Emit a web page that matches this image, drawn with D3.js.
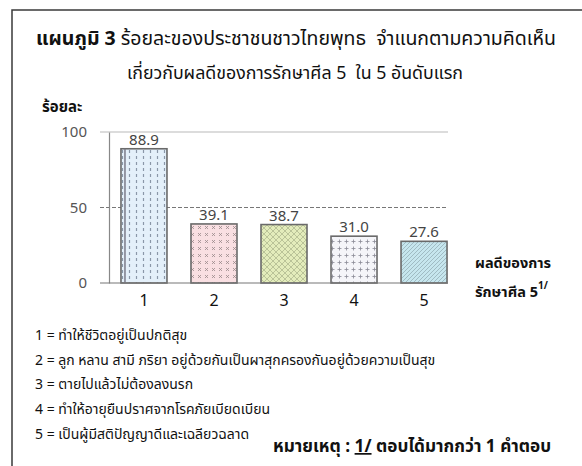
<!DOCTYPE html>
<html>
<head>
<meta charset="utf-8">
<script src="https://cdn.jsdelivr.net/npm/d3@7"></script>
<style>
  html, body { margin: 0; padding: 0; background: #fff; }
  svg { display: block; }
  text { font-family: "Leelawadee UI", Tahoma, "Noto Sans Thai", "Noto Sans", "DejaVu Sans", sans-serif; }
</style>
</head>
<body>
<div id="chart"></div>
<script>
const titleBold = "แผนภูมิ 3";
const titleRest = " ร้อยละของประชาชนชาวไทยพุทธ  จำแนกตามความคิดเห็น";
const titleLine2 = "เกี่ยวกับผลดีของการรักษาศีล 5  ใน 5 อันดับแรก";
const yAxisTitle = "ร้อยละ";
const xAxisTitle1 = "ผลดีของการ";
const xAxisTitle2 = "รักษาศีล 5";
const xAxisSup = "1/";
const categories = ["1", "2", "3", "4", "5"];
const values = [88.9, 39.1, 38.7, 31.0, 27.6];
const valueLabels = ["88.9", "39.1", "38.7", "31.0", "27.6"];
const yTicks = [0, 50, 100];
const legendItems = [
  "1 = ทำให้ชีวิตอยู่เป็นปกติสุข",
  "2 = ลูก หลาน สามี ภริยา อยู่ด้วยกันเป็นผาสุกครองกันอยู่ด้วยความเป็นสุข",
  "3 = ตายไปแล้วไม่ต้องลงนรก",
  "4 = ทำให้อายุยืนปราศจากโรคภัยเบียดเบียน",
  "5 = เป็นผู้มีสติปัญญาดีและเฉลียวฉลาด"
];
const noteBold = "หมายเหตุ : ";
const noteRef = "1/";
const noteRest = " ตอบได้มากกว่า 1 คำตอบ";

const W = 582, H = 466;
const svg = d3.select("#chart").append("svg").attr("width", W).attr("height", H);
const defs = svg.append("defs");

// patterns
function pat(id, w, h, bg, draw) {
  const p = defs.append("pattern").attr("id", id).attr("patternUnits", "userSpaceOnUse")
    .attr("width", w).attr("height", h);
  p.append("rect").attr("width", w).attr("height", h).attr("fill", bg);
  draw(p);
}
pat("p1", 7, 6, "#e4f0fa", p => {
  p.append("line").attr("x1", 3.5).attr("x2", 3.5).attr("y1", 0).attr("y2", 3)
    .attr("stroke", "#8a97a8").attr("stroke-width", 1.2);
});
pat("p2", 7, 7, "#f9dfe2", p => {
  p.append("path").attr("d", "M2,2 L5,5 M5,2 L2,5").attr("stroke", "#9a8a8c").attr("stroke-width", 0.8);
});
pat("p3", 6, 6, "#e3ecbb", p => {
  p.append("path").attr("d", "M0,0 L6,6 M6,0 L0,6").attr("stroke", "#a7b28a").attr("stroke-width", 0.7);
});
pat("p4", 7, 7, "#f5f5f9", p => {
  p.append("path").attr("d", "M3.5,1.5 L3.5,5.5 M1.5,3.5 L5.5,3.5").attr("stroke", "#8a8a96").attr("stroke-width", 0.8);
});
pat("p5", 4, 4, "#c6e6ee", p => {
  p.append("path").attr("d", "M-1,5 L5,-1 M-1,1 L1,-1 M3,5 L5,3").attr("stroke", "#8fa9b0").attr("stroke-width", 0.7);
});
const patIds = ["p1", "p2", "p3", "p4", "p5"];

// frame
svg.append("path").attr("d", `M12,${H} L12,10 L${W},10`).attr("fill", "none")
  .attr("stroke", "#3a3a3a").attr("stroke-width", 1.5);

// title
const t1 = svg.append("text").attr("x", 296).attr("y", 45).attr("text-anchor", "middle")
  .attr("font-size", 19.5).attr("fill", "#111").attr("xml:space", "preserve");
t1.append("tspan").attr("font-weight", "bold").text(titleBold);
t1.append("tspan").text(titleRest);
svg.append("text").attr("x", 295).attr("y", 79).attr("text-anchor", "middle")
  .attr("font-size", 17.8).attr("fill", "#111").attr("xml:space", "preserve").text(titleLine2);

// y title
svg.append("text").attr("x", 42).attr("y", 112).attr("font-size", 15).attr("font-weight", "bold")
  .attr("fill", "#111").text(yAxisTitle);

// scales
const x = d3.scaleBand().domain(categories).range([109, 459]).paddingInner(0.343).paddingOuter(0.171);
const y = d3.scaleLinear().domain([0, 100]).range([283, 132]);
const plotRight = x("5") + x.bandwidth() + 1;

// gridlines
const g = svg.append("g");
yTicks.forEach(t => {
  if (t === 0) return;
  g.append("line").attr("x1", 100).attr("x2", plotRight).attr("y1", y(t)).attr("y2", y(t))
    .attr("stroke", t === 100 ? "#d0d0d0" : "#777")
    .attr("stroke-width", t === 100 ? 1.5 : 1)
    .attr("stroke-dasharray", t === 100 ? null : "4,2");
});

// y axis
const yAxis = d3.axisLeft(y).tickValues(yTicks).tickSize(0).tickPadding(22).tickFormat(d3.format("d"));
const ya = svg.append("g").attr("transform", "translate(109,0)").call(yAxis);
ya.select(".domain").attr("stroke", "#888").attr("stroke-width", 1.2);
ya.selectAll("text").attr("font-size", 15).attr("fill", "#555")
  .style("font-family", "'Leelawadee UI', Tahoma, 'Noto Sans', 'DejaVu Sans', sans-serif");

// bars
svg.append("g").selectAll("rect").data(values).join("rect")
  .attr("x", (d, i) => x(categories[i]))
  .attr("y", d => y(d))
  .attr("width", x.bandwidth())
  .attr("height", d => y(0) - y(d))
  .attr("fill", (d, i) => `url(#${patIds[i]})`)
  .attr("stroke", "#6a6a6a").attr("stroke-width", 1.6);
// darker left edge on bar 1
svg.append("line").attr("x1", x("1") + 4).attr("x2", x("1") + 4)
  .attr("y1", y(values[0])).attr("y2", y(0)).attr("stroke", "#7a7a88").attr("stroke-width", 1.5);

// baseline
svg.append("line").attr("x1", 100).attr("x2", plotRight).attr("y1", y(0)).attr("y2", y(0))
  .attr("stroke", "#777").attr("stroke-width", 1.2);

// value labels
svg.append("g").selectAll("text").data(values).join("text")
  .attr("x", (d, i) => x(categories[i]) + x.bandwidth() / 2)
  .attr("y", d => y(d) - 4)
  .attr("text-anchor", "middle").attr("font-size", 15).attr("fill", "#444")
  .text((d, i) => valueLabels[i]);

// x axis labels
const xAxis = d3.axisBottom(x).tickSize(0).tickPadding(12);
const xa = svg.append("g").attr("transform", `translate(0,${y(0)})`).call(xAxis);
xa.select(".domain").remove();
xa.selectAll("text").attr("font-size", 16).attr("fill", "#111")
  .style("font-family", "'Leelawadee UI', Tahoma, 'Noto Sans', 'DejaVu Sans', sans-serif");

// x title
svg.append("text").attr("x", 475).attr("y", 268).attr("font-size", 14.5).attr("font-weight", "bold")
  .attr("fill", "#111").text(xAxisTitle1);
const xt2 = svg.append("text").attr("x", 475).attr("y", 297).attr("font-size", 14.5).attr("font-weight", "bold")
  .attr("fill", "#111");
xt2.append("tspan").text(xAxisTitle2);
xt2.append("tspan").attr("font-size", 10).attr("dy", -8).text(xAxisSup);

// legend
svg.append("g").selectAll("text").data(legendItems).join("text")
  .attr("x", 35).attr("y", (d, i) => 340 + i * 24.7)
  .attr("font-size", 14).attr("fill", "#111").text(d => d);

// note
const note = svg.append("text").attr("x", 273).attr("y", 452).attr("font-size", 17.2)
  .attr("font-weight", "bold").attr("fill", "#111").attr("xml:space", "preserve");
note.append("tspan").text(noteBold);
note.append("tspan").attr("text-decoration", "underline").text(noteRef);
note.append("tspan").text(noteRest);
</script>
</body>
</html>
